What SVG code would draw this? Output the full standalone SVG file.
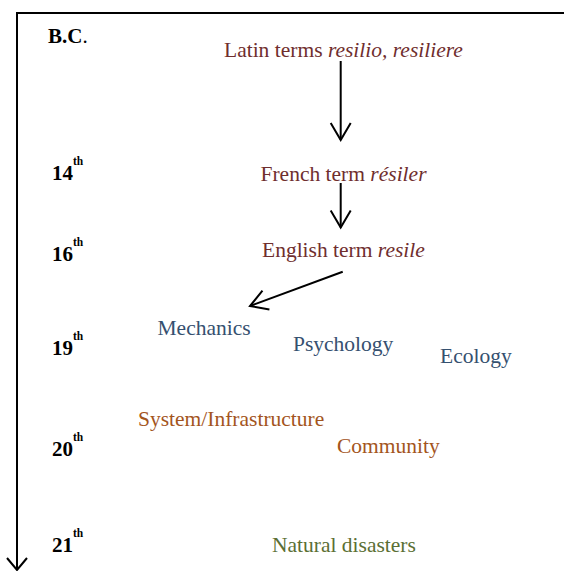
<svg xmlns="http://www.w3.org/2000/svg" width="564" height="571" viewBox="0 0 564 571">
<defs>
<marker id="open" markerWidth="26" markerHeight="26" viewBox="0 0 26 26" refX="19" refY="12" orient="auto" markerUnits="userSpaceOnUse">
<path d="M2,2 L19,12 L2,22" fill="none" stroke="#000" stroke-width="2"/>
</marker>
</defs>
<style>
text{font-family:"Liberation Serif","Times New Roman",serif;font-size:21.5px}
.yr{font-weight:bold;fill:#000;font-size:21px}
.sup{font-weight:bold;font-size:11.5px}
.red{fill:#6f2e2e}
.blue{fill:#35506f}
.orange{fill:#a3551d}
.green{fill:#5b6f34}
.ln{stroke:#000;stroke-width:2;fill:none}
</style>
<rect width="564" height="571" fill="#fff"/>
<g id="axis">
<path class="ln" d="M564,13 L17,13 L17,570"/>
<path class="ln" d="M7,558 L17,570 L27,558"/>
</g>
<g id="years">
<text x="48" y="43" class="yr" font-size="20">B.C<tspan font-weight="normal">.</tspan></text>
<text x="52" y="179.5" class="yr">14<tspan class="sup" dy="-15">th</tspan></text>
<text x="52" y="260.5" class="yr">16<tspan class="sup" dy="-15">th</tspan></text>
<text x="52" y="354.5" class="yr">19<tspan class="sup" dy="-15">th</tspan></text>
<text x="52" y="456" class="yr">20<tspan class="sup" dy="-15">th</tspan></text>
<text x="52" y="551.5" class="yr">21<tspan class="sup" dy="-15">th</tspan></text>
</g>
<g id="latin"><text x="224" y="57" class="red">Latin terms <tspan font-style="italic">resilio, resiliere</tspan></text></g>
<g id="french"><text x="260.5" y="181" class="red">French term <tspan font-style="italic">résiler</tspan></text></g>
<g id="english"><text x="262" y="257.3" class="red">English term <tspan font-style="italic">resile</tspan></text></g>
<g id="mechanics"><text x="157.5" y="335" class="blue">Mechanics</text></g>
<g id="psychology"><text x="293" y="351" class="blue">Psychology</text></g>
<g id="ecology"><text x="440" y="362.5" class="blue">Ecology</text></g>
<g id="system"><text x="138" y="425.5" class="orange">System/Infrastructure</text></g>
<g id="community"><text x="337" y="452.7" class="orange">Community</text></g>
<g id="disasters"><text x="272" y="551.7" class="green">Natural disasters</text></g>
<g id="connectors">
<line class="ln" x1="340.7" y1="61" x2="340.7" y2="140" marker-end="url(#open)"/>
<line class="ln" x1="340.7" y1="183" x2="340.7" y2="227.5" marker-end="url(#open)"/>
<line class="ln" x1="342.7" y1="271.7" x2="250" y2="306" marker-end="url(#open)"/>
</g>
</svg>
